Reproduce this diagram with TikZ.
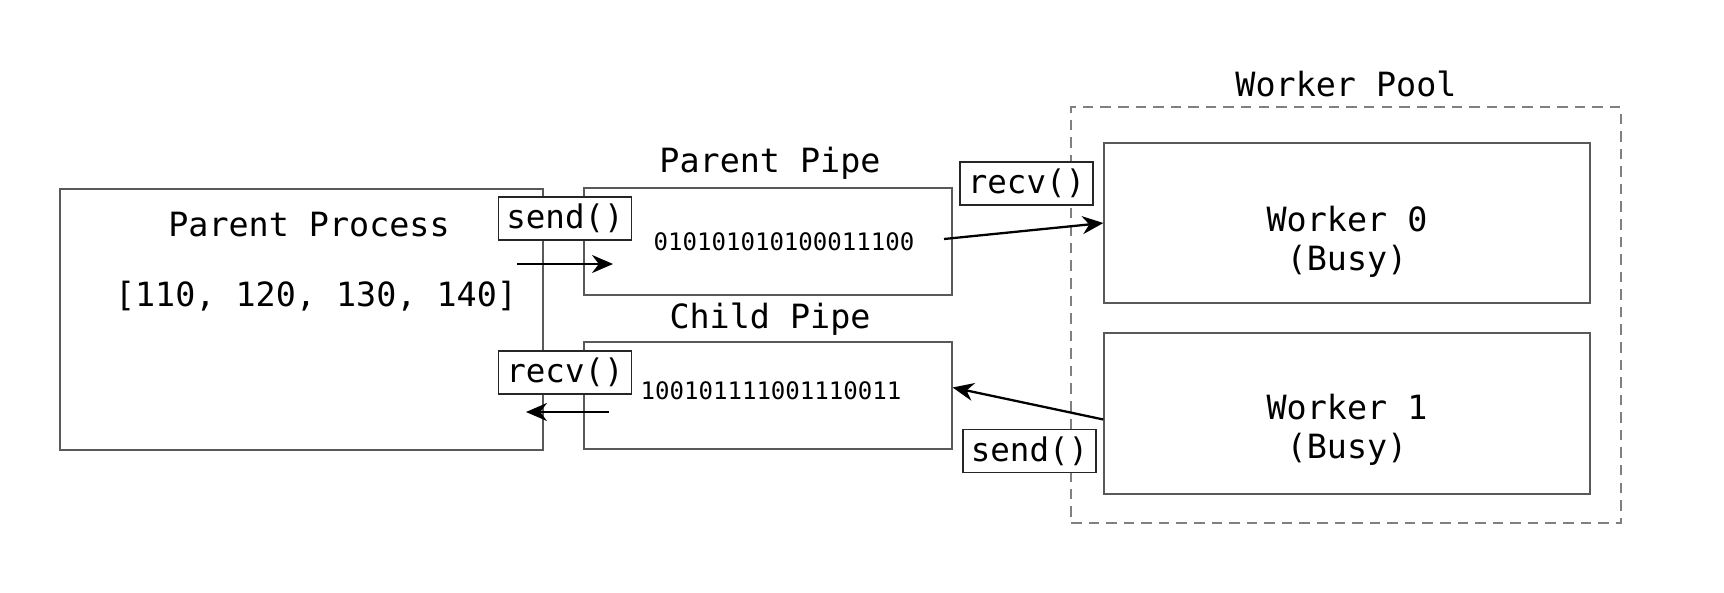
\documentclass[tikz,border=0pt]{standalone}
\usepackage{fontspec}
\setmainfont{DejaVu Sans Mono}
\usetikzlibrary{arrows.meta,positioning,calc}

\begin{document}
\begin{tikzpicture}[x=0.02cm,y=-0.02cm,
  box/.style={draw=black!65,line width=0.8pt,inner sep=0pt},
  tag/.style={draw=black!85,line width=1pt,fill=white,minimum width=2.66cm,
              minimum height=0.86cm,inner sep=0pt,font=\fontsize{18.5}{20}\selectfont},
  title/.style={font=\fontsize{19}{22}\selectfont,inner sep=0pt},
  bits/.style={font=\fontsize{13.7}{16}\selectfont,inner sep=0pt},
  arr/.style={-{Stealth[length=4.2mm,width=3.6mm]},line width=1.3pt}]
  \useasboundingbox (0,0) rectangle (1724,592);
  \node[box,dashed,dash pattern=on 6pt off 4pt,draw=black!50,minimum width=11cm,minimum height=8.32cm] (pool) at (1346,315) {};
  \node[title] (pooltitle) at (1346,84) {Worker Pool};
  \node[box,minimum width=9.66cm,minimum height=5.22cm] (proc) at (301.5,319.5) {};
  \node[title] (proctitle) at (309,225) {Parent Process};
  \node[title] (proclist) at (316,296) {[110, 120, 130, 140]};
  \node[box,minimum width=7.36cm,minimum height=2.14cm] (ppipe) at (768,241.5) {};
  \node[box,minimum width=7.36cm,minimum height=2.14cm] (cpipe) at (768,395.5) {};
  \node[title] (ppipetitle) at (770,163) {Parent Pipe};
  \node[title] (cpipetitle) at (770,319) {Child Pipe};
  \node[bits] (pbits) at (784,242) {010101010100011100};
  \node[bits] (cbits) at (771,391) {100101111001110011};
  \node[box,minimum width=9.72cm,minimum height=3.2cm] (w0) at (1347,223) {};
  \node[box,minimum width=9.72cm,minimum height=3.22cm] (w1) at (1347,413.5) {};
  \node[title,align=center] (w0text) at (1347,242) {Worker 0\\(Busy)};
  \node[title,align=center] (w1text) at (1347,430) {Worker 1\\(Busy)};
  \node[tag] (psend) at (565,218.5) {send()};
  \node[tag] (precv) at (565,372.5) {recv()};
  \node[tag] (wrecv) at (1026.5,183.5) {recv()};
  \node[tag] (wsend) at (1029.5,451) {send()};
  \coordinate (sendfrom) at (517,264);
  \coordinate (sendto) at (613,264);
  \coordinate (recvfrom) at (609,412);
  \coordinate (recvto) at (526,412);
  \coordinate (pout) at (944,239);
  \draw[arr] (sendfrom) -- (sendto);
  \draw[arr] (recvfrom) -- (recvto);
  \draw[arr] (pout) -- (w0.west);
  \draw[arr] ($(w1.west)+(0,6)$) -- ($(cpipe.east)+(0,-8)$);
\end{tikzpicture}
\end{document}
